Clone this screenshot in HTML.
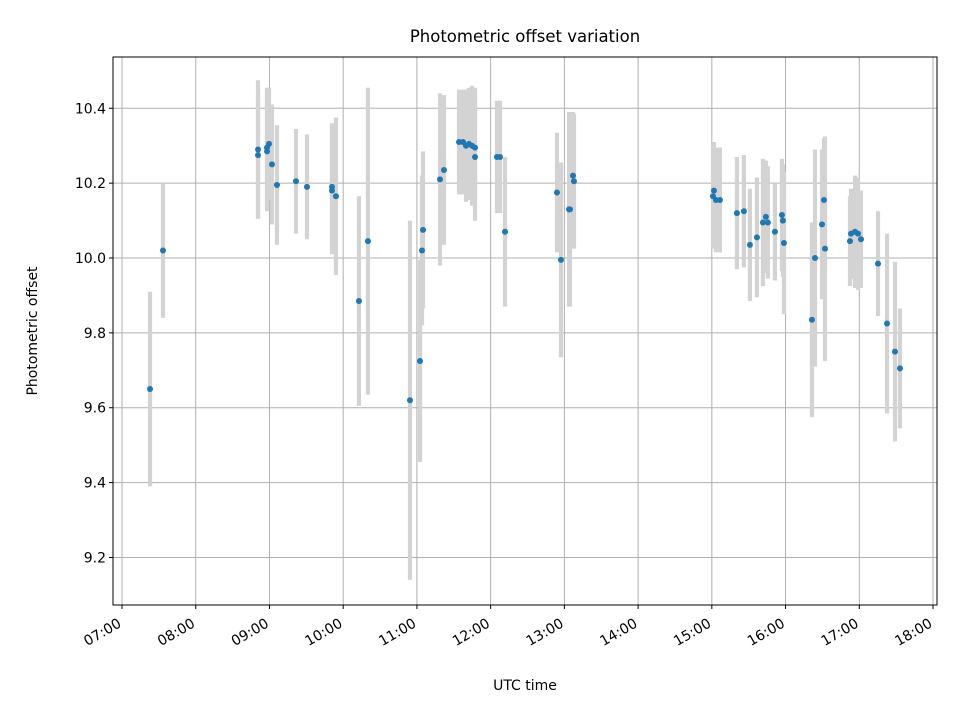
<!DOCTYPE html>
<html><head><meta charset="utf-8"><style>
body{margin:0;background:#fff;font-family:"Liberation Sans","DejaVu Sans",sans-serif}
</style></head><body>
<svg id="chart" width="960" height="720" xmlns="http://www.w3.org/2000/svg" font-family="DejaVu Sans, Liberation Sans, sans-serif">
<rect width="960" height="720" fill="#fff"/>
<g id="grid"></g>
<g id="errs"></g>
<g id="pts"></g>
<rect x="113" y="57" width="824" height="548" fill="none" stroke="#000" stroke-width="1"/>
<g id="ticks"></g>
<text x="525" y="42" font-size="16.5" text-anchor="middle">Photometric offset variation</text>
<text x="525" y="690" font-size="14" text-anchor="middle">UTC time</text>
<text transform="translate(37,331) rotate(-90)" font-size="14" text-anchor="middle">Photometric offset</text>
</svg>
<script>
const times=[7.38,7.556,8.845,8.845,8.967,8.967,8.994,9.034,9.102,9.36,9.509,9.848,9.848,9.902,10.214,10.336,10.906,11.042,11.069,11.083,11.313,11.367,11.571,11.625,11.666,11.706,11.747,11.788,11.788,12.086,12.127,12.195,12.9,12.954,13.063,13.076,13.117,13.13,15.029,15.016,15.056,15.11,15.34,15.435,15.517,15.612,15.693,15.733,15.76,15.856,15.951,15.964,15.978,16.358,16.399,16.494,16.521,16.535,16.874,16.888,16.942,16.983,17.023,17.254,17.376,17.484,17.552];
const offsets=[9.65,10.02,10.29,10.275,10.295,10.285,10.305,10.25,10.195,10.205,10.19,10.19,10.18,10.165,9.885,10.045,9.62,9.725,10.02,10.075,10.21,10.235,10.31,10.31,10.30,10.305,10.30,10.295,10.27,10.27,10.27,10.07,10.175,9.995,10.13,10.13,10.22,10.205,10.18,10.165,10.155,10.155,10.12,10.125,10.035,10.055,10.095,10.11,10.095,10.07,10.115,10.1,10.04,9.835,10.0,10.09,10.155,10.025,10.045,10.065,10.07,10.065,10.05,9.985,9.825,9.75,9.705];
const errors=[0.26,0.18,0.185,0.17,0.16,0.16,0.15,0.16,0.16,0.14,0.14,0.17,0.17,0.21,0.28,0.41,0.48,0.27,0.2,0.21,0.23,0.2,0.14,0.14,0.15,0.15,0.16,0.16,0.17,0.15,0.15,0.2,0.16,0.26,0.26,0.26,0.17,0.18,0.13,0.14,0.14,0.14,0.15,0.15,0.15,0.16,0.17,0.15,0.15,0.13,0.15,0.15,0.19,0.26,0.29,0.2,0.165,0.3,0.12,0.12,0.15,0.15,0.13,0.14,0.24,0.24,0.16];
const xTicks=[7,8,9,10,11,12,13,14,15,16,17,18];
const xTickLabels=["07:00","08:00","09:00","10:00","11:00","12:00","13:00","14:00","15:00","16:00","17:00","18:00"];
const yTicks=[9.2,9.4,9.6,9.8,10.0,10.2,10.4];
const yTickLabels=["9.2","9.4","9.6","9.8","10.0","10.2","10.4"];
const L=113,R=937,T=57,B=605,x0=6.878,x1=18.054,y0=9.073,y1=10.537;
const X=h=>L+(h-x0)/(x1-x0)*(R-L);
const Y=v=>B-(v-y0)/(y1-y0)*(B-T);
const NS="http://www.w3.org/2000/svg";
function mk(tag,parent,attrs){const e=document.createElementNS(NS,tag);for(const k in attrs)e.setAttribute(k,attrs[k]);document.getElementById(parent).appendChild(e);return e;}
xTicks.forEach((t,i)=>{const x=X(t);
 let g=mk('line','grid',{x1:x,x2:x,y1:T,y2:B,stroke:'#b0b0b0','stroke-width':1});
 
 
 let k=mk('line','ticks',{x1:x,x2:x,y1:B,y2:B+4,stroke:'#000'});
 
 
 let tx=mk('text','ticks',{x:0,y:0,'font-size':14,'text-anchor':'end',transform:`translate(${x-5},${B+12}) rotate(-30)`,dy:'0.75em'});
 tx.textContent=xTickLabels[i];
 
 
});
yTicks.forEach((t,i)=>{const y=Y(t);
 let g=mk('line','grid',{x1:L,x2:R,y1:y,y2:y,stroke:'#b0b0b0','stroke-width':1});
 
 
 let k=mk('line','ticks',{x1:L-4,x2:L,y1:y,y2:y,stroke:'#000'});
 
 
 let tx=mk('text','ticks',{x:L-7,y:y+5,'font-size':14,'text-anchor':'end'});
 tx.textContent=yTickLabels[i];
 
 
});
times.forEach((t,i)=>{const x=X(t);
 let e=mk('line','errs',{x1:x,x2:x,y1:Y(offsets[i]+errors[i]),y2:Y(offsets[i]-errors[i]),stroke:'#d3d3d3','stroke-width':4.2});
 
 
});
times.forEach((t,i)=>{
 let c=mk('circle','pts',{cx:X(t),cy:Y(offsets[i]),r:3,fill:'#1f77b4'});
 
 
});
</script>
</body></html>
